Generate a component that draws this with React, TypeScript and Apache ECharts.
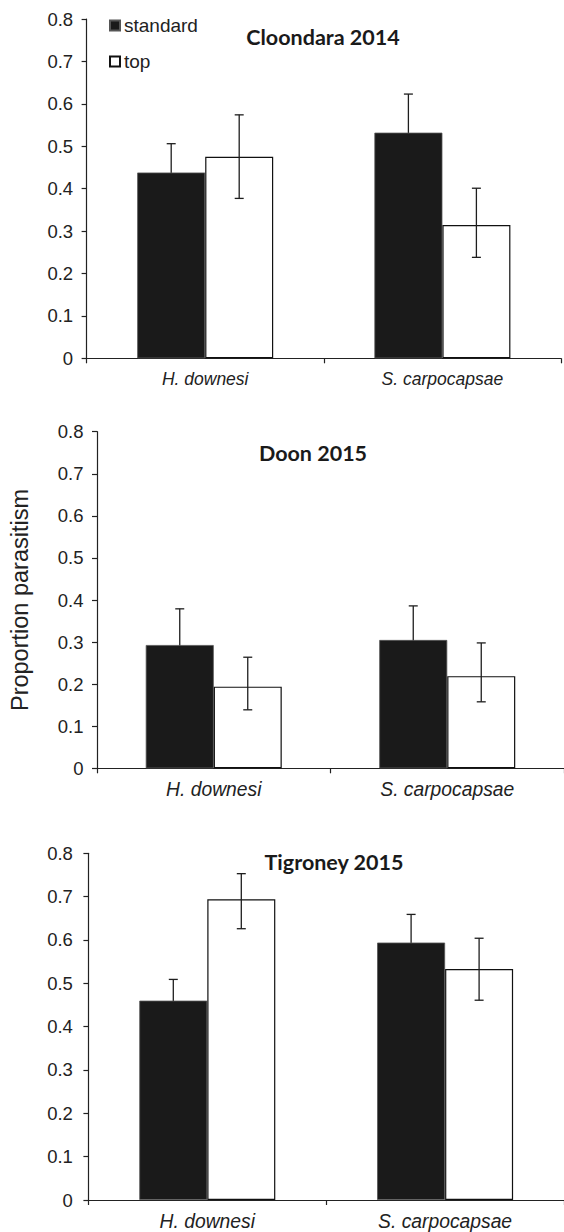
import React, { useEffect, useRef } from "react";
import * as echarts from "echarts";

const categories = ["H. downesi", "S. carpocapsae"];
const seriesNames = ["standard", "top"];
const panelTitles = ["Cloondara 2014", "Doon 2015", "Tigroney 2015"];
const yAxisTitle = "Proportion parasitism";

// Cloondara 2014
const cloondaraStandard = [0.438, 0.532];
const cloondaraTop = [0.475, 0.314];
const cloondaraStandardErr = [[0.371, 0.506], [0.442, 0.623]];
const cloondaraTopErr = [[0.377, 0.574], [0.238, 0.401]];

// Doon 2015
const doonStandard = [0.293, 0.305];
const doonTop = [0.194, 0.219];
const doonStandardErr = [[0.207, 0.379], [0.224, 0.386]];
const doonTopErr = [[0.139, 0.264], [0.158, 0.298]];

// Tigroney 2015
const tigroneyStandard = [0.46, 0.594];
const tigroneyTop = [0.694, 0.533];
const tigroneyStandardErr = [[0.41, 0.509], [0.529, 0.659]];
const tigroneyTopErr = [[0.626, 0.753], [0.461, 0.604]];

const panels = [
  { standard: cloondaraStandard, top: cloondaraTop, stdErr: cloondaraStandardErr, topErr: cloondaraTopErr },
  { standard: doonStandard, top: doonTop, stdErr: doonStandardErr, topErr: doonTopErr },
  { standard: tigroneyStandard, top: tigroneyTop, stdErr: tigroneyStandardErr, topErr: tigroneyTopErr },
];

// layout (pixels)
const grids = [
  { left: 86.6, top: 19, width: 474.4, height: 339.3 },
  { left: 86, top: 431.7, width: 481, height: 336.6 },
  { left: 88.4, top: 853.3, width: 478.8, height: 346.7 },
];
const titlePos = [
  { x: 323, y: 37 },
  { x: 313, y: 453 },
  { x: 334, y: 861.5 },
];
const catFont = [17.5, 19.3, 19.3];
const yLabelMargin = [13.5, 13.5, 15.5];

const BAR_W = 68;
const CAP = 4.5;
const INK = "#222";
const FONT = "'Liberation Sans', Arial, sans-serif";

function errSeries(i: number, side: number, errs: number[][], z: number) {
  return {
    type: "custom",
    name: "err" + i + "_" + side,
    xAxisIndex: i,
    yAxisIndex: i,
    data: errs.map((e, c) => [c, side, e[0], e[1]]),
    encode: { x: 0, y: 3 },
    z,
    silent: true,
    renderItem: (_params: any, api: any) => {
      const cat = api.value(0);
      const sd = api.value(1);
      const lo = api.coord([cat, api.value(2)]);
      const hi = api.coord([cat, api.value(3)]);
      const x = lo[0] + (sd === 0 ? -BAR_W / 2 : BAR_W / 2);
      const st = { stroke: "#1e1e1e", lineWidth: 1.3 };
      return {
        type: "group",
        children: [
          { type: "line", shape: { x1: x, y1: lo[1], x2: x, y2: hi[1] }, style: st },
          { type: "line", shape: { x1: x - CAP, y1: hi[1], x2: x + CAP, y2: hi[1] }, style: st },
          { type: "line", shape: { x1: x - CAP, y1: lo[1], x2: x + CAP, y2: lo[1] }, style: st },
        ],
      };
    },
  };
}

export default function App() {
  const ref = useRef<HTMLDivElement>(null);

  useEffect(() => {
    if (!ref.current) return;
    const chart = echarts.init(ref.current, undefined, { renderer: "svg" });

    const xAxis: any[] = [];
    const yAxis: any[] = [];
    const series: any[] = [];
    const graphic: any[] = [];

    panels.forEach((p, i) => {
      xAxis.push({
        type: "category",
        gridIndex: i,
        data: categories,
        axisLine: { lineStyle: { color: INK, width: 1.2 } },
        axisTick: { show: true, length: 5, lineStyle: { color: INK, width: 1.2 } },
        axisLabel: {
          color: INK,
          fontFamily: FONT,
          fontStyle: "italic",
          fontSize: catFont[i],
          margin: 12,
        },
        splitLine: { show: false },
      });
      yAxis.push({
        type: "value",
        gridIndex: i,
        min: 0,
        max: 0.8,
        interval: 0.1,
        axisLine: { show: true, lineStyle: { color: INK, width: 1.2 } },
        axisTick: { show: true, length: 5, lineStyle: { color: INK, width: 1.2 } },
        axisLabel: {
          color: INK,
          fontFamily: FONT,
          fontSize: 18.5,
          margin: yLabelMargin[i],
        },
        splitLine: { show: false },
        name: i === 1 ? yAxisTitle : "",
        nameLocation: "middle",
        nameRotate: 90,
        nameGap: 65,
        nameTextStyle: { color: INK, fontFamily: FONT, fontSize: 23.5 },
      });
      series.push({
        type: "bar",
        name: seriesNames[0],
        xAxisIndex: i,
        yAxisIndex: i,
        data: p.standard,
        barWidth: BAR_W,
        barGap: "0%",
        itemStyle: { color: "#1a1a1a", borderColor: "#555", borderWidth: 0.8 },
        z: 2,
      });
      series.push({
        type: "bar",
        name: seriesNames[1],
        xAxisIndex: i,
        yAxisIndex: i,
        data: p.top,
        barWidth: BAR_W,
        barGap: "0%",
        itemStyle: { color: "#ffffff", borderColor: "#111", borderWidth: 1.2 },
        z: 2,
      });
      series.push(errSeries(i, 0, p.stdErr, 1));
      series.push(errSeries(i, 1, p.topErr, 5));
      graphic.push({
        type: "text",
        x: titlePos[i].x,
        y: titlePos[i].y,
        style: {
          text: panelTitles[i],
          font: "bold 21.5px Lato, 'Open Sans', sans-serif",
          fill: "#1a1a1a",
          align: "center",
          verticalAlign: "middle",
        },
      });
    });

    chart.setOption({
      animation: false,
      backgroundColor: "#ffffff",
      grid: grids.map((g) => ({ ...g, containLabel: false })),
      xAxis,
      yAxis,
      series,
      graphic,
      legend: {
        data: seriesNames,
        orient: "vertical",
        left: 109,
        top: 16,
        padding: 0,
        itemWidth: 10,
        itemHeight: 10,
        itemGap: 17,
        icon: "rect",
        textStyle: { color: INK, fontFamily: FONT, fontSize: 19, padding: [0, 0, 0, -1] },
      },
    });

    return () => chart.dispose();
  }, []);

  return (
    <div
      ref={ref}
      style={{ position: "absolute", left: 0, top: 0, width: 564, height: 1232, background: "#fff" }}
    />
  );
}
